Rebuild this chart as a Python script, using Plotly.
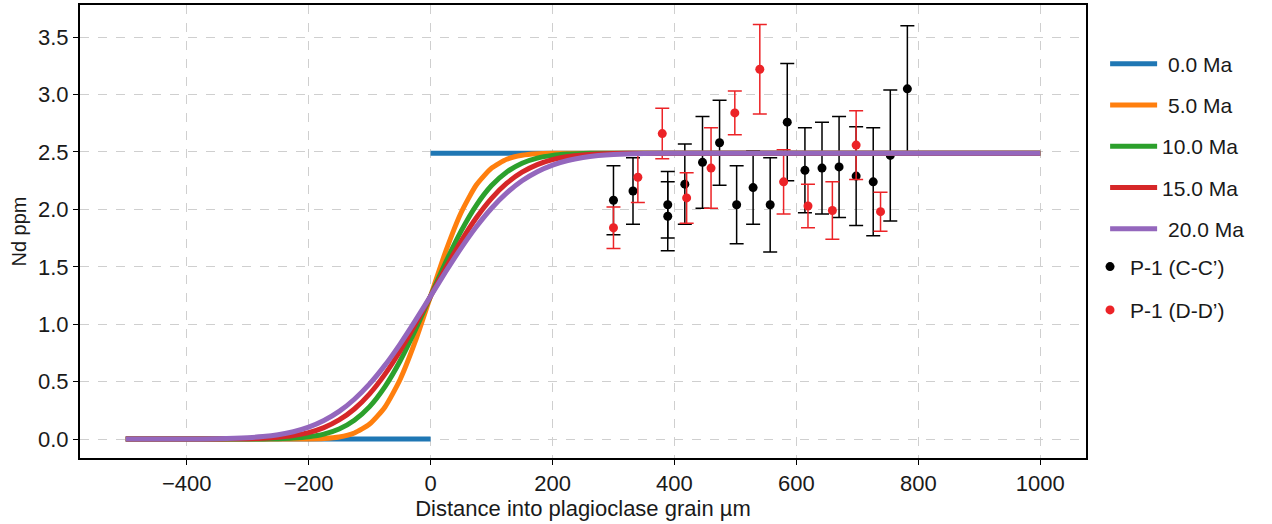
import plotly.graph_objects as go

# ---------------- data ----------------
MODEL_X = [-500, -450, -400, -350, -300, -275, -250, -225, -200, -175, -150, -125, -100, -75, -50, -25,
           0, 25, 50, 75, 100, 125, 150, 175, 200, 225, 250, 275, 300, 350, 400, 450, 500, 1000]

ND_5MA = [0, 0, 0, 0, 0, 0, 0.0002, 0.0004, 0.0014, 0.0056, 0.0186, 0.053, 0.1307, 0.2776, 0.5188, 0.8523,
          1.245, 1.6377, 1.9712, 2.2124, 2.3593, 2.437, 2.4714, 2.4844, 2.4886, 2.4896, 2.4898, 2.49, 2.49,
          2.49, 2.49, 2.49, 2.49, 2.49]
ND_10MA = [0, 0, 0, 0.0001, 0.0004, 0.0011, 0.0032, 0.0082, 0.0196, 0.043, 0.0875, 0.1641, 0.2824, 0.4543,
           0.6795, 0.9494, 1.245, 1.5406, 1.8105, 2.0357, 2.2076, 2.3259, 2.4025, 2.447, 2.4704, 2.4818,
           2.4868, 2.4889, 2.4896, 2.4899, 2.49, 2.49, 2.49, 2.49]
ND_15MA = [0, 0, 0.0001, 0.0006, 0.0034, 0.0073, 0.0153, 0.03, 0.0563, 0.0996, 0.1661, 0.2617, 0.3935, 0.563,
           0.767, 0.9986, 1.245, 1.4914, 1.723, 1.927, 2.0965, 2.2283, 2.3239, 2.3904, 2.4337, 2.46, 2.4747,
           2.4827, 2.4866, 2.4894, 2.4899, 2.49, 2.49, 2.49]
ND_20MA = [0, 0.0001, 0.0006, 0.0031, 0.0117, 0.0214, 0.0378, 0.064, 0.1037, 0.1615, 0.2408, 0.3466, 0.4803,
           0.6417, 0.8274, 1.0312, 1.245, 1.4588, 1.6626, 1.8483, 2.0097, 2.1434, 2.2492, 2.3285, 2.3863,
           2.426, 2.4522, 2.4686, 2.4783, 2.4869, 2.4894, 2.4899, 2.49, 2.49]

INIT_X = [-500, 0, None, 0, 1000]
INIT_Y = [0, 0, None, 2.49, 2.49]

CC_X = [300, 332, 389, 389, 417, 446, 474, 502, 529, 557, 585, 614, 642, 670, 698, 726, 754, 782]
CC_Y = [2.08, 2.16, 2.04, 1.94, 2.22, 2.41, 2.58, 2.04, 2.19, 2.04, 2.76, 2.34, 2.36, 2.37, 2.29, 2.24, 2.47, 3.05]
CC_ERR = [0.30, 0.29, 0.29, 0.30, 0.35, 0.40, 0.37, 0.34, 0.32, 0.41, 0.51, 0.37, 0.40, 0.44, 0.43, 0.47, 0.57, 0.55]

DD_X = [300, 340, 380, 420, 460, 499, 540, 579, 619, 659, 698, 738]
DD_Y = [1.84, 2.28, 2.66, 2.10, 2.36, 2.84, 3.22, 2.24, 2.03, 1.99, 2.56, 1.98]
DD_ERR = [0.18, 0.22, 0.22, 0.22, 0.35, 0.19, 0.39, 0.28, 0.19, 0.25, 0.30, 0.17]

X_TICKS = [-400, -200, 0, 200, 400, 600, 800, 1000]
Y_TICKS = [0.0, 0.5, 1.0, 1.5, 2.0, 2.5, 3.0, 3.5]

CURVE_NAMES = ["\u00a00.0 Ma", "\u00a05.0 Ma", "10.0 Ma", "15.0 Ma", "\u00a020.0 Ma"]
DATA_NAMES = ["P-1 (C-C’)", "P-1 (D-D’)"]

# ---------------- figure ----------------
FONT = "Liberation Sans, Arial, sans-serif"
TXT = "#1a1a1a"
fig = go.Figure()

# measured data first (model curves are drawn above them)
fig.add_trace(go.Scatter(
    x=CC_X, y=CC_Y, mode="markers", name=DATA_NAMES[0], legend="legend2", legendgroup="d1", legendrank=1,
    marker=dict(color="black", size=9),
    error_y=dict(type="data", array=CC_ERR, visible=True, color="black", thickness=1.5, width=7)))
fig.add_trace(go.Scatter(
    x=DD_X, y=DD_Y, mode="markers", name=DATA_NAMES[1], legend="legend2", legendgroup="d2", legendrank=2,
    marker=dict(color="#ec2327", size=9),
    error_y=dict(type="data", array=DD_ERR, visible=True, color="#ec2327", thickness=1.5, width=7)))

fig.add_trace(go.Scatter(x=INIT_X, y=INIT_Y, mode="lines", name=CURVE_NAMES[0], legendgroup="g1",
                         legendrank=1, line=dict(color="#1f77b4", width=5)))
curves = [(ND_5MA, "#ff7f0e"), (ND_10MA, "#2ca02c"), (ND_15MA, "#d62728"), (ND_20MA, "#9467bd")]
for i, (ys, col) in enumerate(curves):
    fig.add_trace(go.Scatter(x=MODEL_X, y=ys, mode="lines", name=CURVE_NAMES[i + 1], legendgroup=f"g{i+2}",
                             legendrank=i + 2,
                             line=dict(color=col, width=5, shape="spline", smoothing=0.6)))

axis_common = dict(
    showline=True, mirror=True, linecolor="black", linewidth=2,
    ticks="outside", ticklen=5, tickwidth=1.2, tickcolor="black",
    showgrid=True, gridcolor="#cfcfcf", gridwidth=0.8, griddash="dash",
    zeroline=False, tickfont=dict(size=22, color=TXT, family=FONT),
)
fig.update_xaxes(range=[-575, 1075], tickvals=X_TICKS,
                 title=dict(text="Distance into plagioclase grain µm", font=dict(size=22, color=TXT, family=FONT),
                            standoff=3),
                 **axis_common)
fig.update_yaxes(range=[-0.165, 3.78], tickvals=Y_TICKS, tickformat=".1f",
                 title=dict(text="Nd ppm", font=dict(size=20, color=TXT, family=FONT), standoff=6),
                 **axis_common)

fig.update_layout(
    width=1272, height=524,
    margin=dict(l=80, r=186, t=3, b=66),
    paper_bgcolor="white", plot_bgcolor="white",
    font=dict(family=FONT, color=TXT),
    legend=dict(x=1.019, y=0.915, xanchor="left", yanchor="top", itemwidth=47,
                font=dict(size=21, family=FONT, color=TXT),
                tracegroupgap=11, bgcolor="rgba(0,0,0,0)"),
    legend2=dict(x=1.004, y=0.467, xanchor="left", yanchor="top",
                 font=dict(size=21, family=FONT, color=TXT),
                 tracegroupgap=13, bgcolor="rgba(0,0,0,0)"),
)

fig.write_html("out.html")
